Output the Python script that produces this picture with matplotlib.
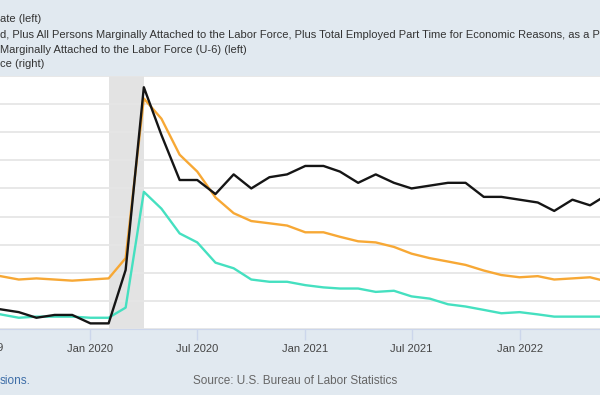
import pandas as pd
import matplotlib
matplotlib.use("Agg")
import matplotlib.pyplot as plt
import matplotlib.transforms as mtransforms

# monthly observations, Aug 2019 - Jun 2022
months = pd.date_range("2019-08-01", "2022-06-01", freq="MS")

u6 = [7.2, 6.9, 7.0, 6.9, 6.8,
      6.9, 7.0, 8.8, 23.0, 21.2, 18.0, 16.5, 14.2, 12.8, 12.1, 11.9, 11.7,
      11.1, 11.1, 10.7, 10.3, 10.2, 9.8, 9.2, 8.8, 8.5, 8.2, 7.7, 7.3,
      7.1, 7.2, 6.9, 7.0, 7.1, 6.7]
unrate = [3.8, 3.5, 3.6, 3.6, 3.6,
          3.5, 3.5, 4.4, 14.7, 13.2, 11.0, 10.2, 8.4, 7.9, 6.9, 6.7, 6.7,
          6.4, 6.2, 6.1, 6.1, 5.8, 5.9, 5.4, 5.2, 4.7, 4.5, 4.2, 3.9,
          4.0, 3.8, 3.6, 3.6, 3.6, 3.6]
not_in_lf = [95.7, 95.6, 95.4, 95.5, 95.5,
             95.2, 95.2, 97.1, 103.6, 101.9, 100.3, 100.3, 99.8, 100.5, 100.0, 100.4, 100.5,
             100.8, 100.8, 100.6, 100.2, 100.5, 100.2, 100.0, 100.1, 100.2, 100.2, 99.7, 99.7,
             99.6, 99.5, 99.2, 99.6, 99.4, 99.8]

tick_dates = ["2020-01-01", "2020-07-01", "2021-01-01", "2021-07-01", "2022-01-01"]
tick_labels = ["Jan 2020", "Jul 2020", "Jan 2021", "Jul 2021", "Jan 2022"]
recession = ("2020-02-01", "2020-04-01")

legend_lines = ["ate (left)",
                "d, Plus All Persons Marginally Attached to the Labor Force, Plus Total Employed Part Time for Economic Reasons, as a P",
                "Marginally Attached to the Labor Force (U-6) (left)",
                "ce (right)"]

bg = "#e1e9f0"
plt.rcParams["font.family"] = ["Liberation Sans", "DejaVu Sans"]

fig = plt.figure(figsize=(6, 3.95), dpi=100, facecolor=bg)
ax = fig.add_axes([0, 1 - 329 / 395, 1, (329 - 76) / 395])
ax.set_facecolor("white")
ax2 = ax.twinx()

ax.axvspan(pd.Timestamp(recession[0]), pd.Timestamp(recession[1]), color="#e3e3e3", lw=0, zorder=0)

ax.plot(months, u6, color="#f7a835", lw=1.7, zorder=3)
ax.plot(months, unrate, color="#45e0c0", lw=1.7, zorder=3)
ax2.plot(months, not_in_lf, color="#151515", lw=1.7, zorder=3)

ax.set_xlim(pd.Timestamp("2019-07-31"), pd.Timestamp("2022-05-18"))
ax.set_ylim(2.5, 25)
ax2.set_ylim(95, 104)
ax.set_yticks([2.5 * i for i in range(1, 11)])
ax.yaxis.grid(True, color="#e6e6e6", lw=1.3)
ax.set_axisbelow(True)
ax.tick_params(axis="y", left=False, labelleft=False)
ax2.tick_params(axis="y", right=False, labelright=False)

ax.set_xticks([pd.Timestamp(d) for d in tick_dates])
ax.set_xticklabels(tick_labels)
ax.tick_params(axis="x", direction="out", length=8, width=1, color="#ccd6eb",
               labelsize=8, labelcolor="#444444", pad=3)

# Jul 2019 label sits mostly left of the visible area
trans = mtransforms.blended_transform_factory(ax.transData, fig.transFigure)
ax.text(pd.Timestamp("2019-07-01"), 1 - 348 / 395, "Jul 2019", fontsize=8, color="#444444",
        ha="center", va="center", transform=trans, clip_on=False)

for a in (ax, ax2):
    for s in a.spines.values():
        s.set_visible(False)
ax.spines["bottom"].set_visible(True)
ax.spines["bottom"].set_color("#ccd6eb")

ys = [19, 34.5, 50, 64]
for y, t in zip(ys, legend_lines):
    fig.text(0, 1 - y / 395, t, fontsize=8, color="#333333", va="center", ha="left")

fig.text(0, 1 - 381 / 395, "sions.", fontsize=8.5, color="#3e6ea8", va="center", ha="left")
fig.text(295 / 600, 1 - 381 / 395, "Source: U.S. Bureau of Labor Statistics", fontsize=8.5,
         color="#666666", va="center", ha="center")

fig.savefig("out.png", dpi=100, facecolor=bg)
